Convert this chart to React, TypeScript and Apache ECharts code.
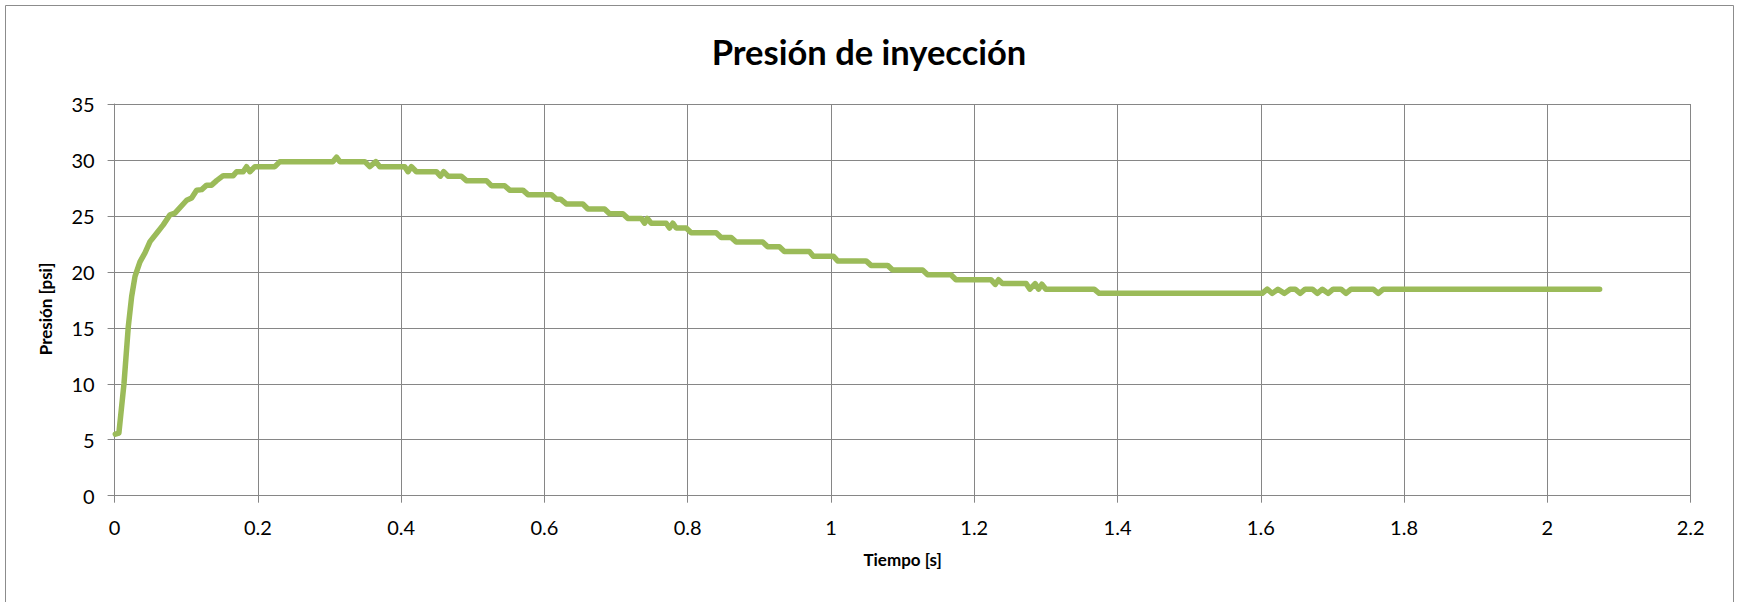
import React, { useEffect, useRef } from "react";
import * as echarts from "echarts";

const TITLE = "Presión de inyección";
const X_NAME = "Tiempo [s]";
const Y_NAME = "Presión [psi]";

const timeS = [
  0.001, 0.006, 0.0131, 0.0191, 0.0238, 0.0285, 0.0354, 0.0424, 0.0494, 0.0587,
  0.0679, 0.0773, 0.0842, 0.1006, 0.1075, 0.1145, 0.1215, 0.1285, 0.1354, 0.1424,
  0.1516, 0.1656, 0.1703, 0.1795, 0.1842, 0.1888, 0.1958, 0.2237, 0.2307, 0.3046,
  0.3098, 0.3144, 0.3493, 0.3562, 0.3646, 0.3702, 0.405, 0.4096, 0.4144, 0.4213,
  0.4492, 0.4548, 0.4594, 0.4654, 0.4841, 0.4911, 0.519, 0.5259, 0.5445, 0.5515,
  0.57, 0.577, 0.6096, 0.6166, 0.6226, 0.6305, 0.6537, 0.6607, 0.684, 0.6909,
  0.7095, 0.7165, 0.7352, 0.7398, 0.7435, 0.7491, 0.77, 0.7746, 0.7792, 0.784,
  0.7979, 0.8049, 0.8398, 0.8467, 0.8607, 0.8677, 0.9047, 0.9117, 0.928, 0.935,
  0.9699, 0.9754, 1.0033, 1.0093, 1.049, 1.0559, 1.0791, 1.0861, 1.1279, 1.1349,
  1.1675, 1.1745, 1.2233, 1.2293, 1.2339, 1.2395, 1.2725, 1.2777, 1.2851, 1.2897,
  1.2944, 1.3, 1.3674, 1.3744, 1.602, 1.609, 1.616, 1.624, 1.633, 1.641,
  1.648, 1.655, 1.662, 1.672, 1.679, 1.686, 1.694, 1.701, 1.712, 1.719,
  1.726, 1.757, 1.764, 1.771, 2.073,
];

const pressurePsi = [
  5.5, 5.6, 10.0, 15.1, 17.8, 19.6, 20.9, 21.7, 22.7, 23.45,
  24.2, 25.1, 25.25, 26.4, 26.6, 27.3, 27.35, 27.75, 27.75, 28.15,
  28.6, 28.6, 28.95, 28.95, 29.4, 28.95, 29.4, 29.4, 29.85, 29.85,
  30.25, 29.85, 29.85, 29.4, 29.85, 29.4, 29.4, 28.95, 29.4, 28.95,
  28.95, 28.55, 28.95, 28.55, 28.55, 28.15, 28.15, 27.7, 27.7, 27.3,
  27.3, 26.9, 26.9, 26.5, 26.5, 26.07, 26.07, 25.62, 25.62, 25.2,
  25.2, 24.78, 24.78, 24.35, 24.78, 24.35, 24.35, 23.92, 24.35, 23.92,
  23.92, 23.5, 23.5, 23.08, 23.08, 22.66, 22.66, 22.24, 22.24, 21.82,
  21.82, 21.4, 21.4, 20.98, 20.98, 20.58, 20.58, 20.16, 20.16, 19.74,
  19.74, 19.3, 19.3, 18.88, 19.3, 18.95, 18.95, 18.45, 18.95, 18.45,
  18.9, 18.45, 18.45, 18.08, 18.08, 18.45, 18.08, 18.45, 18.08, 18.45,
  18.45, 18.08, 18.45, 18.45, 18.08, 18.45, 18.08, 18.45, 18.45, 18.08,
  18.45, 18.45, 18.08, 18.45, 18.45,
];

const xMin = 0;
const xMax = 2.2;
const xStep = 0.2;
const yMin = 0;
const yMax = 35;
const yStep = 5;

const GRID_COLOR = "#868686";
const LINE_COLOR = "#9BBB59";
const FONT = "Lato, 'Open Sans', sans-serif";

export default function App() {
  const ref = useRef<HTMLDivElement>(null);

  useEffect(() => {
    const el = ref.current;
    if (!el) return;
    const chart = echarts.init(el, null, { renderer: "svg" });
    const seriesData = timeS.map((t, i) => [t, pressurePsi[i]]);

    const axisCommon = {
      axisLine: { show: true, lineStyle: { color: GRID_COLOR, width: 1 } },
      axisTick: { show: true, inside: false, length: 7, lineStyle: { color: GRID_COLOR, width: 1 } },
      splitLine: { show: true, lineStyle: { color: GRID_COLOR, width: 1 } },
    };

    chart.setOption({
      animation: false,
      backgroundColor: "#ffffff",
      title: {
        text: TITLE,
        left: "center",
        top: 29,
        textStyle: { fontFamily: FONT, fontWeight: "bold", fontSize: 34.5, color: "#000" },
      },
      grid: {
        left: 114.6,
        right: 47.4,
        top: 104,
        bottom: 106.3,
        containLabel: false,
        outerBoundsMode: "none",
      },
      xAxis: {
        type: "value",
        min: xMin,
        max: xMax,
        interval: xStep,
        ...axisCommon,
        axisLabel: {
          show: true,
          margin: 21,
          fontFamily: FONT,
          fontSize: 20,
          color: "#000",
          formatter: (v: number) => String(Math.round(v * 10) / 10),
        },
        name: X_NAME,
        nameLocation: "middle",
        nameGap: 55,
        nameTextStyle: { fontFamily: FONT, fontWeight: "bold", fontSize: 17, color: "#000" },
      },
      yAxis: {
        type: "value",
        min: yMin,
        max: yMax,
        interval: yStep,
        ...axisCommon,
        axisLabel: {
          show: true,
          margin: 20,
          fontFamily: FONT,
          fontSize: 20,
          color: "#000",
        },
      },
      graphic: [
        {
          type: "rect",
          silent: true,
          z: -1,
          shape: { x: 5.5, y: 5.5, width: 1728, height: 640 },
          style: { fill: "none", stroke: "#8c8c8c", lineWidth: 1 },
        },
        {
          type: "text",
          silent: true,
          x: 45,
          y: 309,
          rotation: Math.PI / 2,
          style: {
            text: Y_NAME,
            align: "center",
            verticalAlign: "middle",
            fontFamily: FONT,
            fontWeight: "bold",
            fontSize: 17,
            fill: "#000",
          },
        },
      ],
      series: [
        {
          type: "line",
          data: seriesData,
          showSymbol: false,
          symbol: "none",
          z: 5,
          lineStyle: { color: LINE_COLOR, width: 5.5, cap: "round", join: "round" },
        },
      ],
    });

    return () => chart.dispose();
  }, []);

  return (
    <div
      ref={ref}
      style={{ position: "fixed", left: 0, top: 0, width: 1738, height: 602, background: "#fff" }}
    />
  );
}
